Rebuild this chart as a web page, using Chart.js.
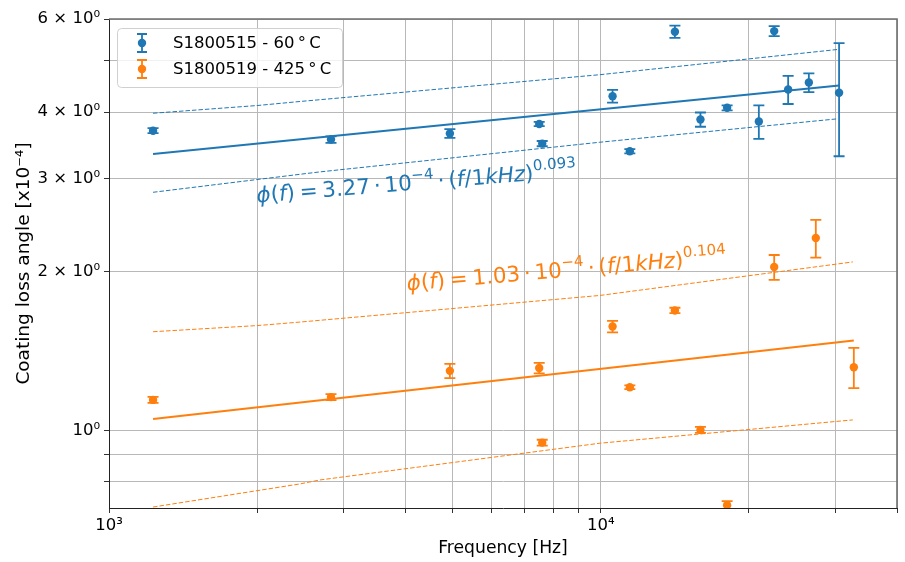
<!DOCTYPE html>
<html><head><meta charset="utf-8">
<script src="https://cdn.jsdelivr.net/npm/chart.js@4.4.0/dist/chart.umd.min.js"></script>
<style>html,body{margin:0;padding:0;background:#fff;}#wrap{width:905px;height:562px;position:relative;}</style>
</head><body><div id="wrap"><canvas id="c" width="905" height="562"></canvas></div>
<script>
// ---- data ----
const freqBlue   = [1229, 2827, 4932, 7493, 7599, 10563, 11452, 14143, 15939, 18058, 20950, 22510, 24030, 26475, 30500];
const lossBlue   = [3.69, 3.55, 3.645, 3.80, 3.488, 4.288, 3.374, 5.677, 3.874, 4.076, 3.84, 5.692, 4.414, 4.551, 4.351];
const errBlue    = [0.04, 0.05, 0.07, 0.035, 0.04, 0.12, 0.03, 0.15, 0.12, 0.045, 0.28, 0.125, 0.27, 0.185, 1.05];
const freqOrange = [1229, 2827, 4932, 7493, 7599, 10563, 11452, 14143, 15939, 18058, 22510, 27353, 32680];
const lossOrange = [1.143, 1.157, 1.297, 1.313, 0.949, 1.573, 1.208, 1.687, 1.003, 0.7226, 2.038, 2.313, 1.318];
const errOrange  = [0.015, 0.015, 0.04, 0.03, 0.012, 0.04, 0.01, 0.02, 0.013, 0.013, 0.11, 0.19, 0.115];

const fitBlueFreq = [1229, 30500];
const fitBlueVal  = [3.333, 4.494];
const bandBlueUpFreq = [1229, 2008, 2445, 9954, 30320];
const bandBlueUp     = [3.981, 4.118, 4.190, 4.708, 5.255];
const bandBlueLoFreq = [1229, 2445, 2685, 9954, 30320];
const bandBlueLo     = [2.822, 3.052, 3.084, 3.509, 3.886];

const fitOrangeFreq = [1229, 32680];
const fitOrangeVal  = [1.052, 1.480];
const bandOrangeUpFreq = [1229, 2008, 2445, 9954, 32530];
const bandOrangeUp     = [1.538, 1.580, 1.604, 1.801, 2.084];
const bandOrangeLoFreq = [1229, 2445, 2685, 9954, 32530];
const bandOrangeLo     = [0.717, 0.7929, 0.8067, 0.9466, 1.0477];

const xTickValues = [1000,2000,3000,4000,5000,6000,7000,8000,9000,10000,20000,30000,40000];
const xTickLabels = ['10³','','','','','','','','','10⁴','','',''];
const yTickValues = [0.8, 0.9, 1, 2, 3, 4, 5, 6];
const yTickLabels = ['', '', '10⁰', '2 × 10⁰', '3 × 10⁰', '4 × 10⁰', '', '6 × 10⁰'];

const seriesNames = ['S1800515 - 60\u2009°\u2009C', 'S1800519 - 425\u2009°\u2009C'];
const BLUE = '#1f77b4', ORANGE = '#ff7f0e';

// formula annotations (anchor in data coords)
const formulaBlueAnchor = [2000, 2.70];
const formulaOrangeAnchor = [4040, 1.84];

const FONT = '"DejaVu Sans", "Liberation Sans", sans-serif';

function pts(xs, ys) { return xs.map((x, i) => ({x: x, y: ys[i]})); }

const errorBarPlugin = {
  id: 'errbars',
  beforeDatasetsDraw(chart) {
    const ctx = chart.ctx, xs = chart.scales.x, ys = chart.scales.y, a = chart.chartArea;
    ctx.save();
    ctx.beginPath(); ctx.rect(a.left, a.top, a.right - a.left, a.bottom - a.top); ctx.clip();
    chart.data.datasets.forEach(ds => {
      if (!ds.errs) return;
      ctx.strokeStyle = ds.backgroundColor; ctx.lineWidth = 1.8;
      ds.data.forEach((p, i) => {
        const e = ds.errs[i];
        const px = xs.getPixelForValue(p.x);
        const t = ys.getPixelForValue(p.y + e), b = ys.getPixelForValue(p.y - e);
        ctx.beginPath();
        ctx.moveTo(px, t); ctx.lineTo(px, b);
        ctx.moveTo(px - 5.5, t); ctx.lineTo(px + 5.5, t);
        ctx.moveTo(px - 5.5, b); ctx.lineTo(px + 5.5, b);
        ctx.stroke();
      });
    });
    ctx.restore();
  }
};

function drawMath(ctx, segs, x, y, angleDeg, color, size) {
  ctx.save();
  ctx.translate(x, y);
  ctx.rotate(angleDeg * Math.PI / 180);
  ctx.fillStyle = color;
  ctx.textBaseline = 'alphabetic';
  ctx.textAlign = 'left';
  let cx = 0;
  for (const s of segs) {
    const fs = s.sup ? size * 0.7 : size;
    ctx.font = (s.it ? 'italic ' : '') + fs + 'px ' + FONT;
    const dy = s.sup ? -size * 0.45 : 0;
    cx += (s.gl || 0) * size;
    ctx.fillText(s.t, cx, dy);
    cx += ctx.measureText(s.t).width + (s.gr || 0) * size;
  }
  ctx.restore();
}

function formulaSegs(coef, expo) {
  return [
    {t:'ϕ', it:true}, {t:'('}, {t:'f', it:true}, {t:')'},
    {t:'=', gl:0.22, gr:0.22}, {t:coef}, {t:'·', gl:0.18, gr:0.18}, {t:'10'}, {t:'−4', sup:true},
    {t:'·', gl:0.18, gr:0.18}, {t:'('}, {t:'f', it:true}, {t:'/1'}, {t:'kHz', it:true}, {t:')'},
    {t:expo, sup:true}
  ];
}

const overlayPlugin = {
  id: 'overlay',
  afterDraw(chart) {
    const ctx = chart.ctx, xs = chart.scales.x, ys = chart.scales.y, a = chart.chartArea;
    ctx.save();
    ctx.strokeStyle = '#6e6e6e'; ctx.lineWidth = 1.6;
    ctx.beginPath();
    ctx.moveTo(a.left, a.top); ctx.lineTo(a.right, a.top); ctx.lineTo(a.right, a.bottom);
    ctx.stroke();
    ctx.restore();
    drawMath(ctx, formulaSegs('3.27', '0.093'),
      xs.getPixelForValue(formulaBlueAnchor[0]), ys.getPixelForValue(formulaBlueAnchor[1]), -4.6, BLUE, 21.5);
    drawMath(ctx, formulaSegs('1.03', '0.104'),
      xs.getPixelForValue(formulaOrangeAnchor[0]), ys.getPixelForValue(formulaOrangeAnchor[1]), -4.9, ORANGE, 21.5);
    const lx = a.left + 8, ly = a.top + 9, lw = 225, lh = 59;
    ctx.save();
    ctx.fillStyle = 'rgba(255,255,255,0.8)';
    ctx.strokeStyle = '#d0d0d0'; ctx.lineWidth = 1;
    ctx.beginPath();
    if (ctx.roundRect) ctx.roundRect(lx + 0.5, ly + 0.5, lw, lh, 4); else ctx.rect(lx + 0.5, ly + 0.5, lw, lh);
    ctx.fill(); ctx.stroke();
    const cols = [BLUE, ORANGE];
    seriesNames.forEach((name, i) => {
      const cy = ly + 15 + i * 26, mx = lx + 25;
      ctx.strokeStyle = cols[i]; ctx.lineWidth = 1.8;
      ctx.beginPath();
      ctx.moveTo(mx, cy - 9); ctx.lineTo(mx, cy + 9);
      ctx.moveTo(mx - 5, cy - 9); ctx.lineTo(mx + 5, cy - 9);
      ctx.moveTo(mx - 5, cy + 9); ctx.lineTo(mx + 5, cy + 9);
      ctx.stroke();
      ctx.fillStyle = cols[i];
      ctx.beginPath(); ctx.arc(mx, cy, 4.2, 0, Math.PI * 2); ctx.fill();
      ctx.fillStyle = '#000';
      ctx.font = '16.5px ' + FONT;
      ctx.textBaseline = 'middle'; ctx.textAlign = 'left';
      ctx.fillText(name, lx + 56, cy + 1);
    });
    ctx.restore();
  }
};

const lineDs = (xs, ys, color, dashed) => ({
  type: 'line', data: pts(xs, ys), borderColor: color, backgroundColor: color,
  borderWidth: dashed ? 1 : 2, borderDash: dashed ? [4.5, 2] : [], pointRadius: 0,
  showLine: true, fill: false, tension: 0
});

new Chart(document.getElementById('c'), {
  type: 'scatter',
  data: {
    datasets: [
      lineDs(fitBlueFreq, fitBlueVal, BLUE, false),
      lineDs(bandBlueUpFreq, bandBlueUp, BLUE, true),
      lineDs(bandBlueLoFreq, bandBlueLo, BLUE, true),
      lineDs(fitOrangeFreq, fitOrangeVal, ORANGE, false),
      lineDs(bandOrangeUpFreq, bandOrangeUp, ORANGE, true),
      lineDs(bandOrangeLoFreq, bandOrangeLo, ORANGE, true),
      { label: seriesNames[0], data: pts(freqBlue, lossBlue), errs: errBlue,
        backgroundColor: BLUE, borderColor: BLUE, pointRadius: 4.2, borderWidth: 0, pointHoverRadius: 4.2 },
      { label: seriesNames[1], data: pts(freqOrange, lossOrange), errs: errOrange,
        backgroundColor: ORANGE, borderColor: ORANGE, pointRadius: 4.2, borderWidth: 0, pointHoverRadius: 4.2 }
    ]
  },
  options: {
    responsive: false, animation: false, devicePixelRatio: 1,
    layout: { padding: { left: 0, right: 8, top: 19, bottom: 0 }, autoPadding: false },
    plugins: { legend: { display: false }, tooltip: { enabled: false } },
    scales: {
      x: {
        type: 'logarithmic', min: 1000, max: 40000, bounds: 'data',
        afterBuildTicks: s => { s.ticks = xTickValues.map(v => ({ value: v })); },
        afterFit: s => { s.height = 54; },
        ticks: { autoSkip: false, maxRotation: 0, padding: 3, color: '#000',
          font: { family: FONT, size: 16.5 },
          callback: (v) => { const i = xTickValues.indexOf(v); return i >= 0 ? xTickLabels[i] : ''; } },
        grid: { color: '#b8b8b8', lineWidth: 1, tickLength: 5, tickColor: '#333', drawTicks: true },
        border: { display: true, color: '#222', width: 1 },
        title: { display: true, text: 'Frequency [Hz]', color: '#000', font: { family: FONT, size: 17.2 }, padding: { top: 0, bottom: 3 } }
      },
      y: {
        type: 'logarithmic', min: 0.714, max: 6, bounds: 'data',
        afterBuildTicks: s => { s.ticks = yTickValues.map(v => ({ value: v })); },
        afterFit: s => { s.width = 109; },
        ticks: { autoSkip: false, padding: 4, color: '#000',
          font: { family: FONT, size: 16.5 },
          callback: (v) => { const i = yTickValues.findIndex(t => Math.abs(t - v) < 1e-9); return i >= 0 ? yTickLabels[i] : ''; } },
        grid: { color: '#b8b8b8', lineWidth: 1, tickLength: 5, tickColor: '#333', drawTicks: true },
        border: { display: true, color: '#222', width: 1 },
        title: { display: true, text: 'Coating loss angle [x10⁻⁴]', color: '#000', font: { family: FONT, size: 18.5 }, padding: { top: 13, bottom: 0 } }
      }
    }
  },
  plugins: [errorBarPlugin, overlayPlugin]
});
</script>
</body></html>
